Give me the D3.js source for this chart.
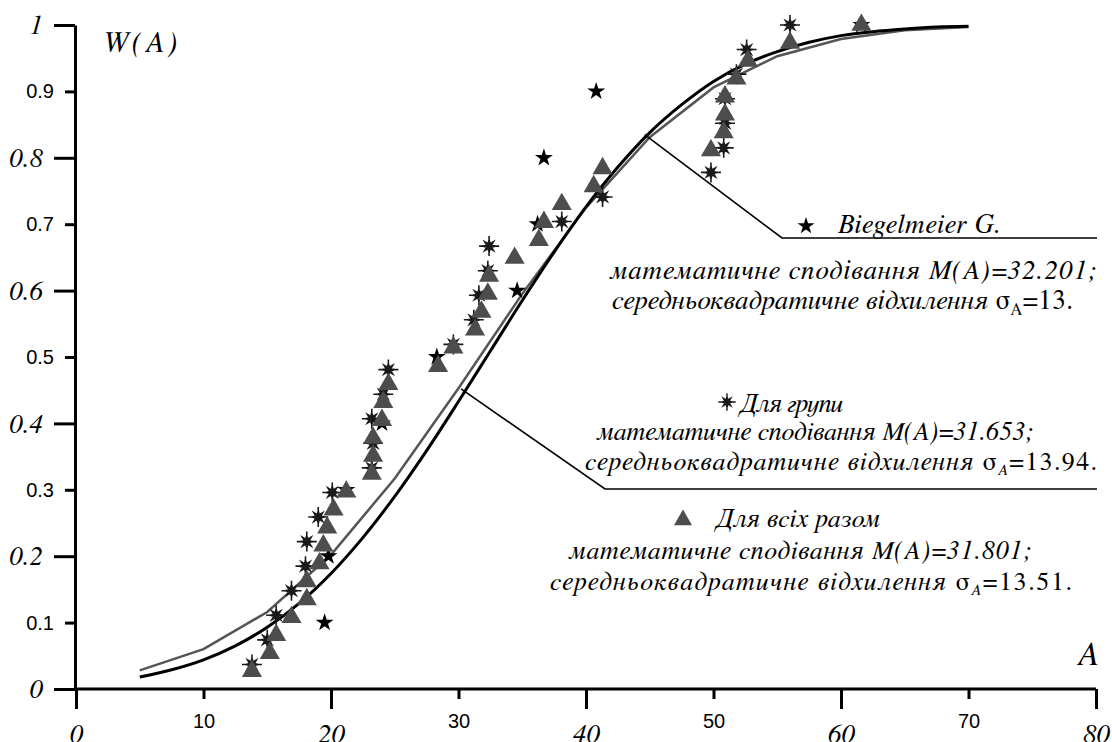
<html>
<head>
<title>W(A)</title>
<script src="https://d3js.org/d3.v7.min.js"></script>
<style>
body { margin: 0; background: #fff; }
.axis path, .axis line { stroke: #000; stroke-width: 3px; }
</style>
</head>
<body>
<div id="chart"></div>
<script>
// values
var groupCurveX = [5, 10, 15, 20, 25, 30, 35, 40, 45, 50, 55, 60, 65, 70];
var groupCurveY = [0.028, 0.060, 0.116, 0.202, 0.317, 0.453, 0.595, 0.725, 0.831, 0.906, 0.953, 0.979, 0.992, 0.997];

var biegCurveX = [5, 7.5, 10, 12.5, 15, 17.5, 20, 22.5, 25, 27.5, 30, 32.5, 35, 37.5, 40, 42.5, 45, 47.5, 50, 52.5, 55, 57.5, 60, 62.5, 65, 67.5, 70];
var biegCurveY = [0.018, 0.029, 0.044, 0.065, 0.093, 0.129, 0.174, 0.228, 0.290, 0.359, 0.433, 0.509, 0.585, 0.658, 0.726, 0.786, 0.838, 0.880, 0.915, 0.941, 0.960, 0.974, 0.984, 0.990, 0.994, 0.997, 0.998];

var biegX = [19.5, 19.8, 21.2, 24.0, 28.3, 34.6, 36.2, 36.7, 40.8, 61.6];
var biegY = [0.1, 0.2, 0.3, 0.4, 0.5, 0.6, 0.7, 0.8, 0.9, 1.0];

var groupX = [13.8, 15.0, 15.7, 16.9, 18.0, 18.1, 19.0, 20.1, 23.2, 23.3, 23.2, 24.1, 24.5, 29.6,
              31.2, 31.6, 32.3, 32.4, 38.1, 41.3, 49.8, 50.8, 50.9, 50.9, 51.8, 52.6, 56.0];
var groupY = [0.037, 0.074, 0.111, 0.148, 0.185, 0.222, 0.259, 0.296, 0.333, 0.370, 0.407, 0.444, 0.481, 0.519,
              0.556, 0.593, 0.630, 0.667, 0.704, 0.741, 0.778, 0.815, 0.852, 0.889, 0.926, 0.963, 1.0];

var allX = [13.8, 15.2, 15.7, 16.9, 18.1, 18.1, 19.1, 19.4, 19.7, 20.2, 21.2, 23.2, 23.3, 23.3, 24.0, 24.1, 24.5,
            28.4, 29.6, 31.3, 31.8, 32.3, 32.4, 34.4, 36.3, 36.7, 38.1, 40.6, 41.3,
            49.8, 50.8, 50.9, 50.9, 51.8, 52.7, 56.0, 61.6];
var allY = [0.027, 0.054, 0.081, 0.108, 0.135, 0.162, 0.189, 0.216, 0.243, 0.270, 0.297, 0.324, 0.351, 0.378, 0.405, 0.432, 0.459,
            0.486, 0.514, 0.541, 0.568, 0.595, 0.622, 0.649, 0.676, 0.703, 0.730, 0.757, 0.784,
            0.811, 0.838, 0.865, 0.892, 0.919, 0.946, 0.973, 1.0];

var xMajorTicks = [0, 20, 40, 60, 80];
var xMinorTicks = [10, 30, 50, 70];
var yMajorTicks = [0, 0.2, 0.4, 0.6, 0.8, 1];
var yMinorTicks = [0.1, 0.3, 0.5, 0.7, 0.9];

var width = 1112, height = 742;
var SERIF = "FreeSerif, 'Liberation Serif', 'Times New Roman', serif";
var SANS = "'Liberation Sans', Arial, Helvetica, sans-serif";

var x = d3.scaleLinear().domain([0, 80]).range([76, 1096]);
var y = d3.scaleLinear().domain([0, 1]).range([689, 25]);

var svg = d3.select("#chart").append("svg")
    .attr("width", width)
    .attr("height", height);

function italicLabels(g, size) {
  g.selectAll("text")
      .style("font-family", SERIF).style("font-style", "italic")
      .style("font-size", size + "px").attr("fill", "#000");
}
function plainLabels(g, size) {
  g.selectAll("text")
      .style("font-family", SANS).style("font-style", "normal")
      .style("font-size", size + "px").attr("fill", "#000");
}

// axes: italic labels with long ticks, plain labels with short ticks
var gxMaj = svg.append("g").attr("class", "axis")
    .attr("transform", "translate(0," + y(0) + ")")
    .call(d3.axisBottom(x).tickValues(xMajorTicks).tickSize(20).tickSizeOuter(0).tickPadding(15).tickFormat(function(d) { return d; }));
gxMaj.select(".domain").attr("d", "M" + (x(0) - 2) + ",0H" + x(80));
italicLabels(gxMaj, 27);

var gxMin = svg.append("g").attr("class", "axis")
    .attr("transform", "translate(0," + y(0) + ")")
    .call(d3.axisBottom(x).tickValues(xMinorTicks).tickSize(10).tickPadding(15).tickFormat(function(d) { return d; }));
gxMin.select(".domain").remove();
plainLabels(gxMin, 20);

var gyMaj = svg.append("g").attr("class", "axis")
    .attr("transform", "translate(" + (x(0) - 1) + ",0)")
    .call(d3.axisLeft(y).tickValues(yMajorTicks).tickSize(21).tickSizeOuter(0).tickPadding(11).tickFormat(function(d) { return d; }));
italicLabels(gyMaj, 27);

var gyMin = svg.append("g").attr("class", "axis")
    .attr("transform", "translate(" + (x(0) - 1) + ",0)")
    .call(d3.axisLeft(y).tickValues(yMinorTicks).tickSize(10).tickPadding(11).tickFormat(function(d) { return d; }));
gyMin.select(".domain").remove();
plainLabels(gyMin, 20);

svg.append("text")
    .attr("x", 102).attr("y", 52)
    .style("font-family", SERIF).style("font-style", "italic")
    .style("font-size", "30px").style("letter-spacing", "3px")
    .text("W(A)");
svg.append("text")
    .attr("x", 1099).attr("y", 665).attr("text-anchor", "end")
    .style("font-family", SERIF).style("font-style", "italic")
    .style("font-size", "34px")
    .text("A");

// curves
var line = d3.line()
    .x(function(d) { return x(d[0]); })
    .y(function(d) { return y(d[1]); });

svg.append("path")
    .datum(d3.zip(groupCurveX, groupCurveY))
    .attr("fill", "none").attr("stroke", "#555").attr("stroke-width", 2.5)
    .attr("d", line);
svg.append("path")
    .datum(d3.zip(biegCurveX, biegCurveY))
    .attr("fill", "none").attr("stroke", "#000").attr("stroke-width", 3)
    .attr("d", line.curve(d3.curveCatmullRom));

// leader lines
function leader(pts) {
  svg.append("path")
      .attr("fill", "none").attr("stroke", "#000").attr("stroke-width", 1.6)
      .attr("d", d3.line()(pts));
}
leader([[x(44.6), y(0.835)], [782, 238], [1097, 238]]);
leader([[x(30.2), y(0.452)], [605, 489], [1097, 489]]);

// marker shapes
var asterisk = {
  draw: function(ctx, size) {
    var r = Math.sqrt(size) / 2, ro = r * 0.62, ri = r * 0.26;
    for (var i = 0; i < 16; i++) {
      var a = i * Math.PI / 8, rr = (i % 2 === 0) ? ro : ri;
      if (i === 0) ctx.moveTo(rr * Math.cos(a), rr * Math.sin(a));
      else ctx.lineTo(rr * Math.cos(a), rr * Math.sin(a));
    }
    ctx.closePath();
    ctx.moveTo(-r, 0); ctx.lineTo(r, 0);
    ctx.moveTo(0, -r); ctx.lineTo(0, r);
  }
};

var starSym = d3.symbol().type(d3.symbolStar).size(100);
var astSym = d3.symbol().type(asterisk).size(400);
var triSym = d3.symbol().type(d3.symbolTriangle).size(175);

svg.append("g").selectAll("path")
    .data(d3.zip(biegX, biegY))
    .enter().append("path")
    .attr("transform", function(d) { return "translate(" + x(d[0]) + "," + y(d[1]) + ")"; })
    .attr("d", starSym).attr("fill", "#000");

svg.append("g").selectAll("path")
    .data(d3.zip(groupX, groupY))
    .enter().append("path")
    .attr("transform", function(d) { return "translate(" + x(d[0]) + "," + y(d[1]) + ")"; })
    .attr("d", astSym).attr("fill", "#1a1a1a").attr("stroke", "#1a1a1a").attr("stroke-width", 1.6);

svg.append("g").selectAll("path")
    .data(d3.zip(allX, allY))
    .enter().append("path")
    .attr("transform", function(d) { return "translate(" + x(d[0]) + "," + y(d[1]) + ")"; })
    .attr("d", triSym).attr("fill", "#4d4d4d");

// legend text
function textLine(x0, y0, len, size, parts) {
  var t = svg.append("text")
      .attr("x", x0).attr("y", y0)
      .style("font-family", SERIF).style("font-style", "italic")
      .style("font-size", size + "px")
      .attr("textLength", len).attr("lengthAdjust", "spacing");
  parts.forEach(function(p) {
    var s = t.append("tspan").text(p.t);
    if (p.up) s.style("font-style", "normal");
    if (p.sub) s.attr("dy", 5).style("font-size", (size * 0.6) + "px");
    if (p.back) s.attr("dy", -5);
  });
}

svg.append("path").attr("transform", "translate(806,226)").attr("d", d3.symbol().type(d3.symbolStar).size(90)).attr("fill", "#000");
textLine(838, 233, 163, 27, [{t: "Biegelmeier G."}]);
textLine(610, 279, 485, 27, [{t: "математичне сподівання M(A)=32.201;"}]);
textLine(612, 309, 461, 27, [{t: "середньоквадратичне відхилення "}, {t: "σ", up: 1}, {t: "A", up: 1, sub: 1}, {t: "=13.", up: 1, back: 1}]);

svg.append("path").attr("transform", "translate(727,402)").attr("d", d3.symbol().type(asterisk).size(300)).attr("fill", "#1a1a1a").attr("stroke", "#1a1a1a").attr("stroke-width", 1.4);
textLine(740, 412, 103, 26, [{t: "Для групи"}]);
textLine(597, 440, 435, 26, [{t: "математичне сподівання M(A)=31.653;"}]);
textLine(585, 470, 512, 26, [{t: "середньоквадратичне відхилення  "}, {t: "σ", up: 1}, {t: "A", sub: 1}, {t: "=13.94.", up: 1, back: 1}]);

svg.append("path").attr("transform", "translate(683,520)").attr("d", d3.symbol().type(d3.symbolTriangle).size(140)).attr("fill", "#4d4d4d");
textLine(716, 527, 164, 26, [{t: "Для всіх разом"}]);
textLine(569, 559, 461, 26, [{t: "математичне сподівання M(A)=31.801;"}]);
textLine(550, 590, 522, 26, [{t: "середньоквадратичне відхилення  "}, {t: "σ", up: 1}, {t: "A", sub: 1}, {t: "=13.51.", up: 1, back: 1}]);
</script>
</body>
</html>
